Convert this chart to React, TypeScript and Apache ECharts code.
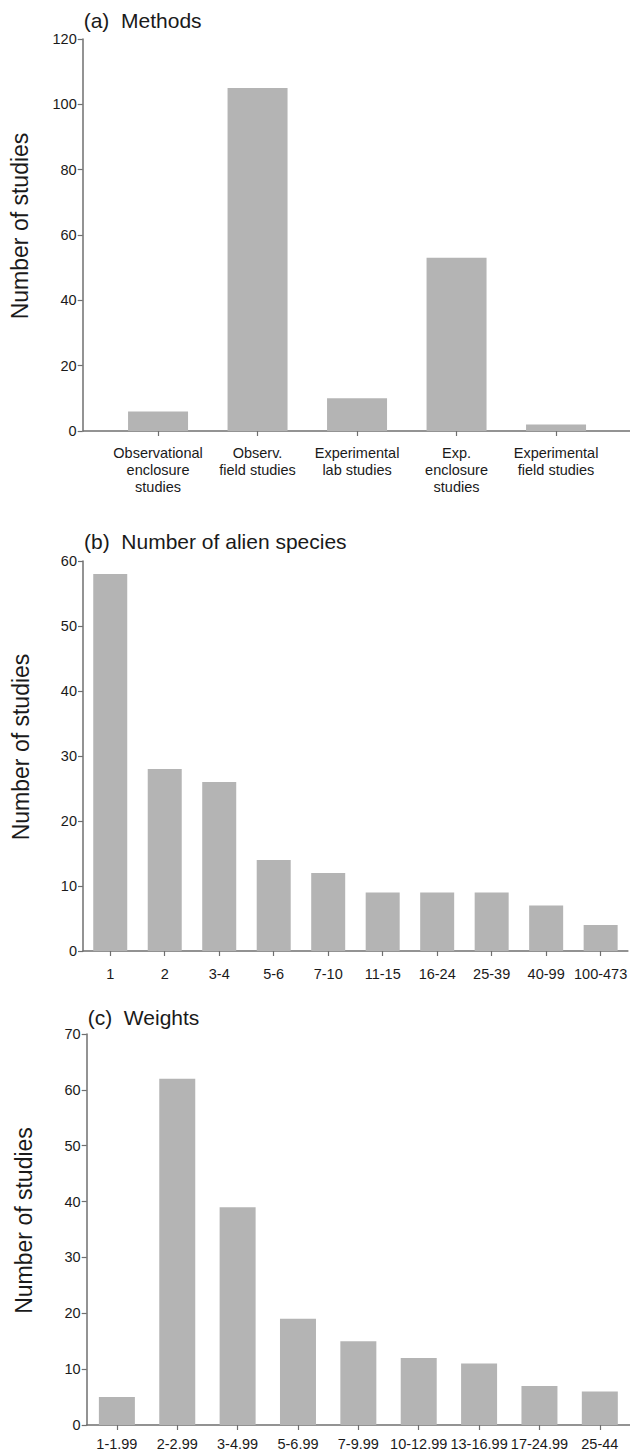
import React, { useEffect, useRef } from "react";
import * as echarts from "echarts";

const methodCats = [
  "Observational\nenclosure\nstudies",
  "Observ.\nfield studies",
  "Experimental\nlab studies",
  "Exp.\nenclosure\nstudies",
  "Experimental\nfield studies",
];
const methodVals = [6, 105, 10, 53, 2];

const speciesCats = ["1", "2", "3-4", "5-6", "7-10", "11-15", "16-24", "25-39", "40-99", "100-473"];
const speciesVals = [58, 28, 26, 14, 12, 9, 9, 9, 7, 4];

const weightCats = ["1-1.99", "2-2.99", "3-4.99", "5-6.99", "7-9.99", "10-12.99", "13-16.99", "17-24.99", "25-44"];
const weightVals = [5, 62, 39, 19, 15, 12, 11, 7, 6];

const titles = ["(a)  Methods", "(b)  Number of alien species", "(c)  Weights"];
const yName = "Number of studies";

const W = 630;
const H = 1453;
const FONT = '"Liberation Sans", Arial, Helvetica, sans-serif';
const BAR = "#b4b4b4";
const AXIS = "#6f6f6f";
const TXT = "#1a1a1a";

const layout = [
  { cats: methodCats, vals: methodVals, max: 120, interval: 20, left: 108.3, width: 497.5, top: 39, height: 392, yOffset: 25.6, barWidth: 60, labelMargin: 13, titleY: 20, lineLeft: 82.7, lineRight: 633 },
  { cats: speciesCats, vals: speciesVals, max: 60, interval: 10, left: 83, width: 550, top: 561, height: 390, yOffset: 0, barWidth: 34, labelMargin: 14, titleY: 541, lineLeft: 83, lineRight: 633 },
  { cats: weightCats, vals: weightVals, max: 70, interval: 10, left: 86.7, width: 546.3, top: 1034, height: 391, yOffset: 0, barWidth: 36, labelMargin: 10, titleY: 1017, lineLeft: 86.7, lineRight: 633 },
];

export default function App() {
  const ref = useRef<HTMLDivElement>(null);
  useEffect(() => {
    const chart = echarts.init(ref.current!, null, { renderer: "svg", width: W, height: H });
    const grid: any[] = [];
    const xAxis: any[] = [];
    const yAxis: any[] = [];
    const series: any[] = [];
    const graphic: any[] = [];
    layout.forEach((p, i) => {
      grid.push({ left: p.left, width: p.width, top: p.top, height: p.height, containLabel: false });
      xAxis.push({
        type: "category",
        gridIndex: i,
        data: p.cats,
        boundaryGap: true,
        axisLine: { show: i !== 0, lineStyle: { color: AXIS, width: 1.5 } },
        axisTick: { show: true, alignWithLabel: true, length: 5, lineStyle: { color: AXIS, width: 1.2 } },
        axisLabel: { interval: 0, margin: p.labelMargin, fontSize: 14.5, lineHeight: 17, color: TXT, fontFamily: FONT, align: "center" },
      });
      yAxis.push({
        type: "value",
        gridIndex: i,
        min: 0,
        max: p.max,
        interval: p.interval,
        offset: p.yOffset,
        splitLine: { show: false },
        axisLine: { show: true, lineStyle: { color: AXIS, width: 1.5 } },
        axisTick: { show: true, length: 5, lineStyle: { color: AXIS, width: 1.2 } },
        axisLabel: { margin: 6, fontSize: 14.5, color: TXT, fontFamily: FONT },
        name: yName,
        nameLocation: "middle",
        nameRotate: 90,
        nameGap: 51,
        nameTextStyle: { fontSize: 23, color: TXT, fontFamily: FONT, padding: [0, 0, 0, 18] },
      });
      series.push({
        type: "bar",
        xAxisIndex: i,
        yAxisIndex: i,
        data: p.vals,
        barWidth: p.barWidth,
        itemStyle: { color: BAR },
        silent: true,
      });
      graphic.push({
        type: "text",
        x: p.lineLeft + 1,
        y: p.titleY,
        style: { text: titles[i], font: `21px ${FONT}`, fill: TXT, verticalAlign: "middle", align: "left" },
      });
      if (i === 0) {
        graphic.push({
          type: "line",
          shape: { x1: p.lineLeft, y1: p.top + p.height, x2: p.lineRight, y2: p.top + p.height },
          style: { stroke: AXIS, lineWidth: 1.5 },
        });
      }
    });
    chart.setOption({
      animation: false,
      backgroundColor: "#ffffff",
      grid,
      xAxis,
      yAxis,
      series,
      graphic,
    });
    return () => chart.dispose();
  }, []);
  return <div ref={ref} style={{ position: "absolute", left: 0, top: 0, width: W, height: H }} />;
}
